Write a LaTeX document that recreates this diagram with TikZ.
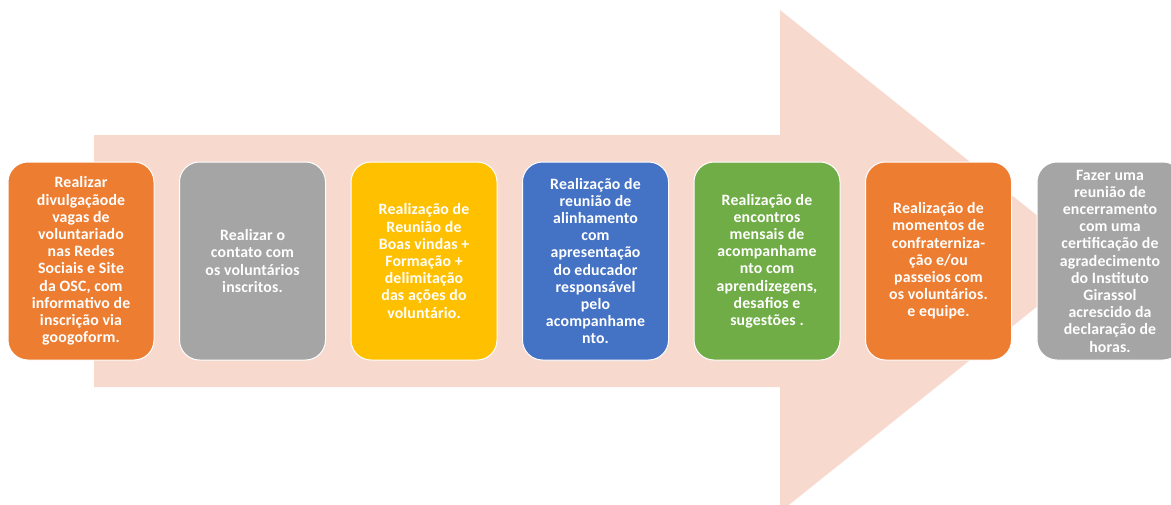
\documentclass[tikz,border=0pt]{standalone}
\usepackage{fontspec}
\setmainfont{Carlito}
\newfontfamily\boxfont[LetterSpace=1]{Carlito}
\usetikzlibrary{positioning}

\definecolor{stepOrange}{HTML}{ED7D31}
\definecolor{stepGray}{HTML}{A5A5A5}
\definecolor{stepYellow}{HTML}{FFC000}
\definecolor{stepBlue}{HTML}{4472C4}
\definecolor{stepGreen}{HTML}{70AD47}
\definecolor{arrowPink}{HTML}{F8D9CE}

\begin{document}
\begin{tikzpicture}[
    x=1pt, y=-1pt,
    node distance=25.5pt,
    stepbox/.style={
      rounded corners=20pt,
      draw=white, line width=1pt,
      minimum width=146pt, minimum height=198pt,
      outer sep=0pt, inner sep=1pt,
      align=center, text=white,
      font=\boxfont\bfseries\fontsize{15.8}{17.2}\selectfont,
    },
  ]
  \useasboundingbox (0,0) rectangle (1171,504);
  \clip (0,0) rectangle (1171,504);
  % big arrow behind the steps
  \fill[arrowPink] (94,135) -- (780,135) -- (780,10) -- (1094,261)
    -- (780,512) -- (780,387) -- (94,387) -- cycle;

  \node[stepbox, fill=stepOrange] (divulgacao) at (81,261)
    {Realizar\\divulgaçãode\\vagas de\\voluntariado\\nas Redes\\Sociais e Site\\da OSC, com\\informativo de\\inscrição via\\googoform.};
  \node[stepbox, fill=stepGray, right=of divulgacao] (contato)
    {Realizar o\\contato com\\os voluntários\\inscritos.};
  \node[stepbox, fill=stepYellow, right=of contato] (boasvindas)
    {Realização de\\Reunião de\\Boas vindas +\\Formação +\\delimitação\\das ações do\\voluntário.};
  \node[stepbox, fill=stepBlue, right=of boasvindas] (alinhamento)
    {Realização de\\reunião de\\alinhamento\\com\\apresentação\\do educador\\responsável\\pelo\\acompanhame\\nto.};
  \node[stepbox, fill=stepGreen, right=of alinhamento] (encontros)
    {Realização de\\encontros\\mensais de\\acompanhame\\nto com\\aprendizegens,\\desafios e\\sugestões .};
  \node[stepbox, fill=stepOrange, right=of encontros] (confraternizacao)
    {Realização de\\momentos de\\confraterniza-\\ção e/ou\\passeios com\\os voluntários.\\e equipe.};
  \node[stepbox, fill=stepGray, right=of confraternizacao] (encerramento)
    {Fazer uma\\reunião de\\encerramento\\com uma\\certificação de\\agradecimento\\do Instituto\\Girassol\\acrescido da\\declaração de\\horas.};
\end{tikzpicture}
\end{document}
